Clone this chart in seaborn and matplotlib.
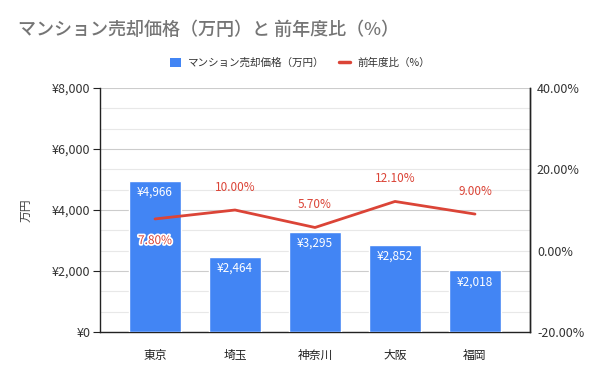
import matplotlib
matplotlib.use("Agg")
import matplotlib.pyplot as plt
import matplotlib.patheffects as pe
from matplotlib.ticker import MultipleLocator, FuncFormatter
from matplotlib.patches import Patch
from matplotlib.lines import Line2D
import seaborn as sns
import pandas as pd

categories = ["東京", "埼玉", "神奈川", "大阪", "福岡"]
prices = [4966, 2464, 3295, 2852, 2018]
yoy = [7.8, 10.0, 5.7, 12.1, 9.0]

title = "マンション売却価格（万円）と 前年度比（%）"
bar_name = "マンション売却価格（万円）"
line_name = "前年度比（%）"

sns.set_theme(style="white")
plt.rcParams['font.family'] = ['Noto Sans CJK JP', 'DejaVu Sans']

BLUE = "#4285F4"
RED = "#DB4437"

df = pd.DataFrame({"cat": categories, "price": prices, "yoy": yoy})

fig = plt.figure(figsize=(6.0, 3.71), dpi=100)
ax = fig.add_axes([100/600, 1-332/371, 430/600, 244/371])

sns.barplot(data=df, x="cat", y="price", color=BLUE, width=0.65,
            saturation=1, ax=ax, zorder=3)
ax.set_xlim(-0.6875, 4.6875)
ax.set_ylim(0, 8000)
ax.yaxis.set_major_locator(MultipleLocator(2000))
ax.yaxis.set_minor_locator(MultipleLocator(2000/3))
ax.yaxis.set_major_formatter(FuncFormatter(lambda v, p: f"¥{int(v):,}"))
ax.grid(axis="y", which="major", color="#cccccc", lw=0.8, zorder=0)
ax.grid(axis="y", which="minor", color="#e8e8e8", lw=0.8, zorder=0)
ax.set_axisbelow(True)
ax.set_xlabel("")
ax.set_ylabel("万円", fontsize=8.5, color="#444444", labelpad=14)
for s in ["left", "bottom", "right"]:
    ax.spines[s].set_color("#222222")
    ax.spines[s].set_linewidth(1.0)
ax.spines["top"].set_visible(False)
ax.tick_params(axis="y", which="major", left=True, length=5, width=0.8,
               color="#222222", labelsize=9, labelcolor="#333333", pad=2)
ax.tick_params(axis="y", which="minor", left=False, length=0)
ax.tick_params(axis="x", bottom=False, labelsize=8.5, labelcolor="#222222", pad=6)

for i, v in enumerate(prices):
    ax.text(i, v - 370, f"¥{v:,}", ha="center", va="center",
            color="white", fontsize=8.5, zorder=5)

ax2 = ax.twinx()
sns.lineplot(x=list(range(len(categories))), y=yoy, color=RED, lw=2,
             ax=ax2, zorder=4)
ax2.set_ylim(-20, 40)
ax2.set_xlim(-0.6875, 4.6875)
ax2.yaxis.set_major_locator(MultipleLocator(20))
ax2.yaxis.set_minor_locator(MultipleLocator(20))
ax2.yaxis.set_major_formatter(FuncFormatter(lambda v, p: f"{v:.2f}%"))
ax2.tick_params(axis="y", which="both", right=False, length=0,
                labelsize=9, labelcolor="#333333", pad=5)
for s in ["left", "bottom", "top"]:
    ax2.spines[s].set_visible(False)
ax2.spines["right"].set_color("#222222")
ax2.spines["right"].set_linewidth(1.0)
ax2.grid(False)

for i, v in enumerate(yoy):
    if i == 0:
        t = ax2.text(i, v - 5.3, f"{v:.2f}%", ha="center", va="center",
                     color=RED, fontsize=8.5, zorder=6)
        t.set_path_effects([pe.withStroke(linewidth=2.5, foreground="white")])
    else:
        ax2.text(i, v + 5.6, f"{v:.2f}%", ha="center", va="center",
                 color=RED, fontsize=8.5, zorder=6)

fig.text(18/600, 1-30/371, title, fontsize=13, color="#757575",
         ha="left", va="center", fontweight="medium")

handles = [Patch(facecolor=BLUE, edgecolor="none"),
           Line2D([0], [0], color=RED, lw=2.5)]
fig.legend(handles, [bar_name, line_name], loc="center",
           bbox_to_anchor=(0.5, 1-63/371), ncol=2, frameon=False,
           fontsize=7.6, handlelength=1.0, handleheight=1.0,
           columnspacing=1.4, handletextpad=0.7, labelcolor="#333333",
           borderpad=0, borderaxespad=0)

fig.savefig("out.png", dpi=100)
